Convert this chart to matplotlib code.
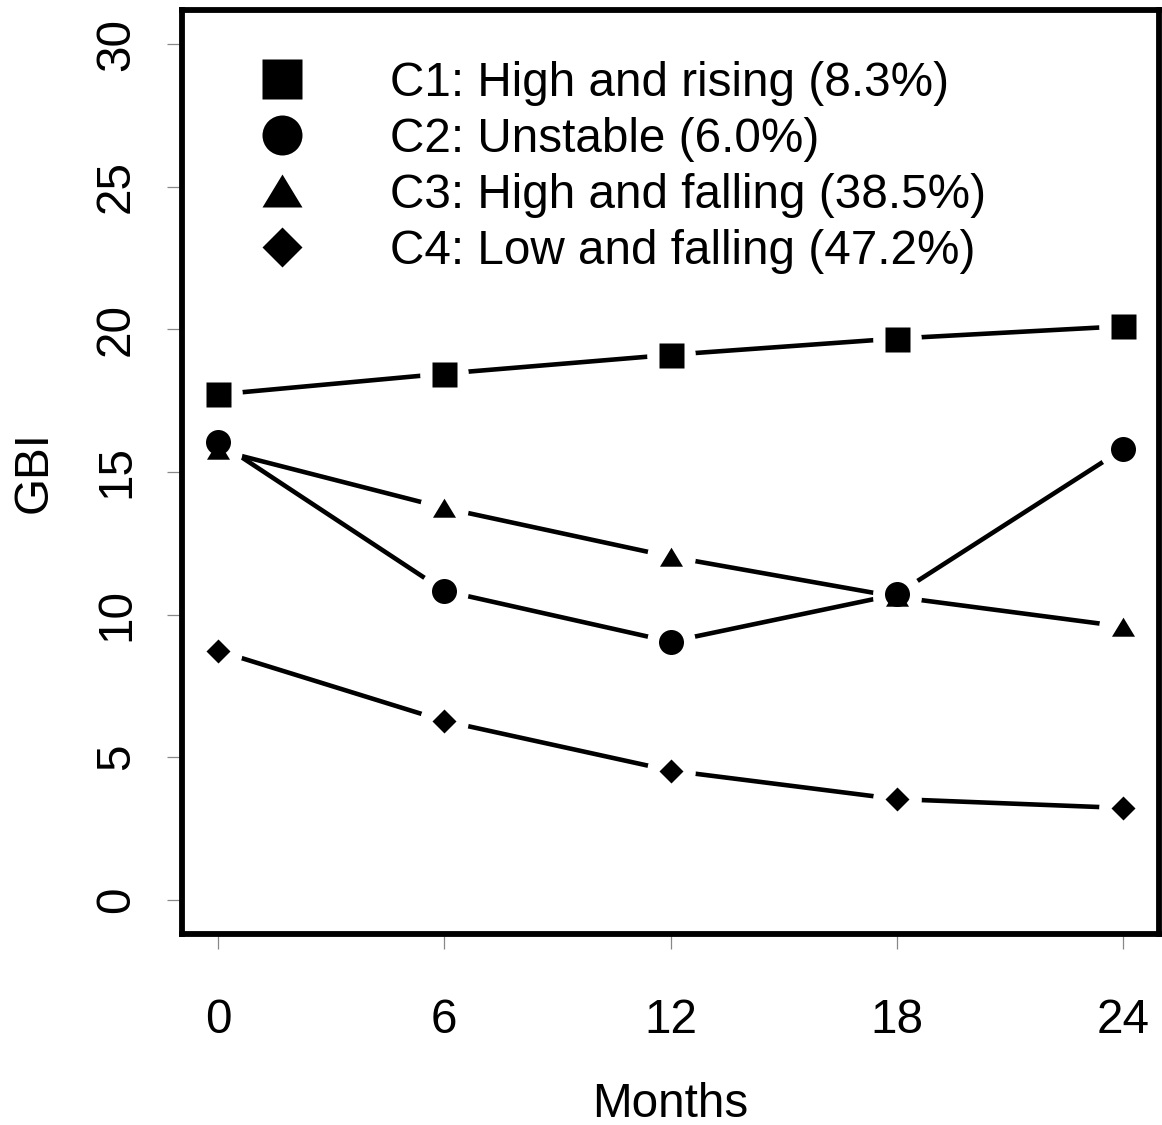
import matplotlib
matplotlib.use("Agg")
import matplotlib.pyplot as plt
from matplotlib.lines import Line2D

plt.rcParams['font.family'] = ['Liberation Sans', 'DejaVu Sans']

months = [0, 6, 12, 18, 24]
c1 = [17.72, 18.45, 19.11, 19.68, 20.11]
c2 = [16.06, 10.83, 9.05, 10.71, 15.80]
c3 = [15.77, 13.74, 12.03, 10.62, 9.58]
c4 = [8.73, 6.27, 4.53, 3.53, 3.22]
labels = ["C1: High and rising (8.3%)", "C2: Unstable (6.0%)",
          "C3: High and falling (38.5%)", "C4: Low and falling (47.2%)"]
xticks = [0, 6, 12, 18, 24]
yticks = [0, 5, 10, 15, 20, 25, 30]

tri = [(-1, -0.8), (1, -0.8), (0, 0.85)]
markers = ['s', 'o', tri, 'D']
msizes = [18, 18, 16.6, 12.7]
leg_sizes = [28.8, 28.8, 28.8, 20.4]
series = [c1, c2, c3, c4]

FS = 34.3

fig = plt.figure(figsize=(11.62, 11.25), dpi=100)
ax = fig.add_axes([182/1162, 1 - 934/1125, (1159-182)/1162, (934-10)/1125])

for s in series:
    ax.plot(months, s, color='black', lw=3.3, zorder=2, solid_capstyle='butt')
for s, m in zip(series, markers):
    ax.plot(months, s, ls='none', marker='o', ms=35, mfc='white', mec='none', zorder=3)
for s, m, ms in zip(series, markers, msizes):
    ax.plot(months, s, ls='none', marker=m, ms=ms, mfc='black', mec='none', zorder=4)

ax.set_xlim(-0.96, 24.96)
ax.set_ylim(-1.2, 31.2)
ax.set_xticks(xticks)
ax.set_yticks(yticks)
ax.set_xticklabels([str(v) for v in xticks])
ax.set_yticklabels([str(v) for v in yticks])

for sp in ax.spines.values():
    sp.set_linewidth(4.2)
    sp.set_color('black')

ax.tick_params(axis='both', direction='out', length=11, width=0.9, color='#888888',
               labelsize=FS)
ax.tick_params(axis='x', pad=35)
ax.tick_params(axis='y', pad=20, labelrotation=90)
for lab in ax.get_yticklabels():
    lab.set_va('center')

ax.set_xlabel("Months", fontsize=FS)
ax.set_ylabel("GBI", fontsize=FS)
ax.xaxis.set_label_coords(0.5, -0.160)
ax.yaxis.set_label_coords(-0.128, 0.5)

handles = [Line2D([], [], ls='none', marker=m, ms=ms, mfc='black', mec='none')
           for m, ms in zip(markers, leg_sizes)]
ax.legend(handles, labels, loc='upper left', bbox_to_anchor=(0.0782, 0.945),
          frameon=False, fontsize=FS, borderpad=0, borderaxespad=0,
          handlelength=1.0, handletextpad=1.77, labelspacing=0.23, numpoints=1)

fig.savefig("out.png", dpi=100)
